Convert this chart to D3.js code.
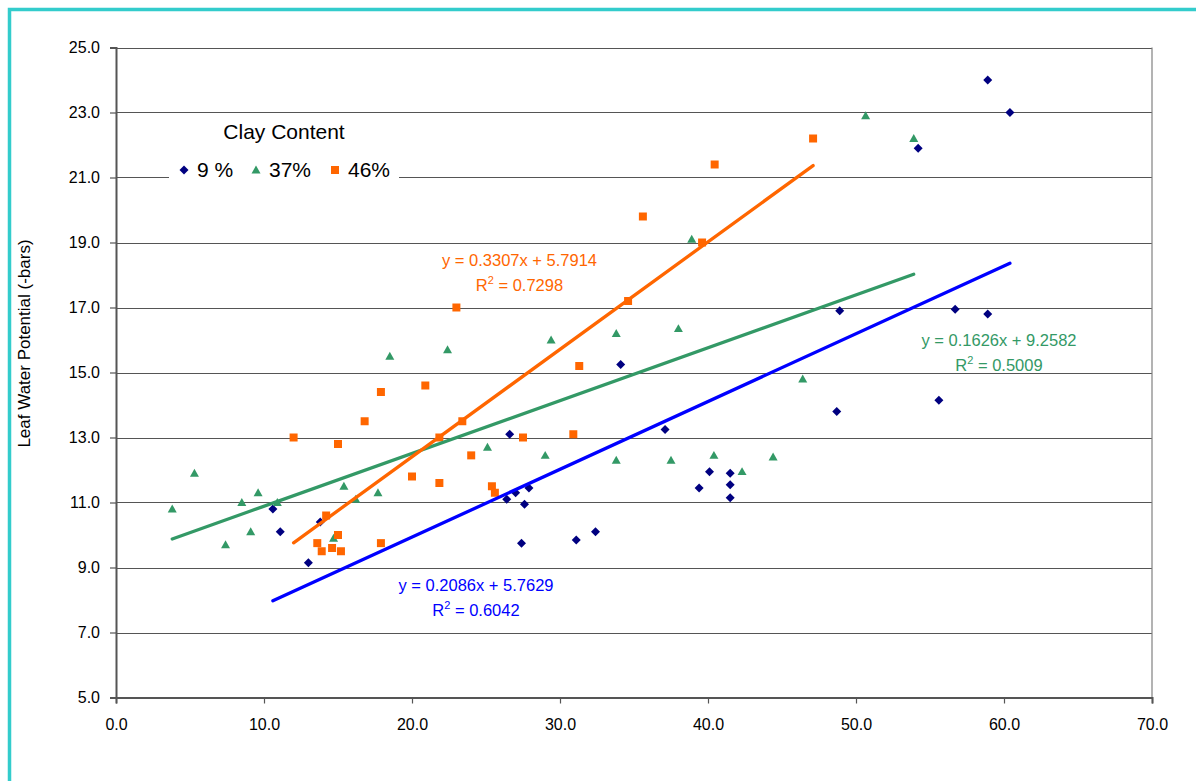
<!DOCTYPE html>
<html>
<head>
<meta charset="utf-8">
<script src="https://cdn.jsdelivr.net/npm/d3@7"></script>
<style>
  body { margin: 0; background: #fff; }
  svg { display: block; font-family: "Liberation Sans", Arial, sans-serif; }
</style>
</head>
<body>
<script>
"use strict";

///////////////////
// data
///////////////////

// 9 % clay : [x, y]
var clay9 = [
    [10.6, 10.8], [11.1, 10.1], [13.0, 9.15], [13.8, 10.4], [26.6, 13.1],
    [26.4, 11.1], [27.0, 11.3], [27.9, 11.45], [27.6, 10.95], [27.4, 9.75],
    [31.1, 9.85], [32.4, 10.1], [34.1, 15.25], [37.1, 13.25], [39.4, 11.45],
    [40.1, 11.95], [41.5, 11.9], [41.5, 11.55], [41.5, 11.15], [48.9, 16.9],
    [48.7, 13.8], [55.6, 14.15], [56.7, 16.95], [58.9, 16.8], [54.2, 21.9],
    [58.9, 24.0], [60.4, 23.0]
];
// 37 % clay
var clay37 = [
    [3.8, 10.8], [5.3, 11.9], [7.4, 9.7], [8.5, 11.0], [9.1, 10.1],
    [9.6, 11.3], [10.9, 11.0], [14.7, 9.9], [15.4, 11.5], [16.2, 11.1],
    [17.7, 11.3], [18.5, 15.5], [22.4, 15.7], [25.1, 12.7], [29.4, 16.0],
    [29.0, 12.45], [33.8, 16.2], [33.8, 12.3], [38.0, 16.35], [37.5, 12.3],
    [38.9, 19.1], [40.4, 12.45], [42.3, 11.95], [44.4, 12.4], [46.4, 14.8],
    [50.65, 22.9], [53.9, 22.2]
];
// 46 % clay
var clay46 = [
    [12.0, 13.0], [13.6, 9.75], [13.9, 9.5], [14.2, 10.6], [14.6, 9.6],
    [15.0, 12.8], [15.0, 10.0], [15.2, 9.5], [16.8, 13.5], [17.9, 14.4],
    [17.9, 9.75], [20.0, 11.8], [20.9, 14.6], [21.85, 13.0], [21.85, 11.6],
    [23.0, 17.0], [23.4, 13.5], [24.0, 12.45], [25.4, 11.5], [25.6, 11.3],
    [27.5, 13.0], [30.9, 13.1], [31.3, 15.2], [34.6, 17.2], [35.6, 19.8],
    [39.6, 19.0], [40.45, 21.4], [47.1, 22.2]
];

var seriesNames = ["9 %", "37%", "46%"];
var slopes = [0.2086, 0.1626, 0.3307];
var intercepts = [5.7629, 9.2582, 5.7914];
var rSquared = ["0.6042", "0.5009", "0.7298"];

var xTicks = [0, 10, 20, 30, 40, 50, 60, 70];
var yTicks = [5, 7, 9, 11, 13, 15, 17, 19, 21, 23, 25];

///////////////////
// setup
///////////////////

var W = 1196, H = 781;
var colors = ["#000080", "#339966", "#FF6600"];
var lineColors = ["#0000FF", "#339966", "#FF6600"];
var series = [clay9, clay37, clay46];

var x = d3.scaleLinear().domain([0, 70]).range([116, 1152]);
var y = d3.scaleLinear().domain([5, 25]).range([697.5, 47.5]);

var svg = d3.select("body").append("svg")
    .attr("width", W).attr("height", H);

// teal frame (cut off at right/bottom)
svg.append("rect")
    .attr("x", 9.5).attr("y", 9.5)
    .attr("width", W + 20).attr("height", H + 20)
    .attr("fill", "#fff")
    .attr("stroke", "#33CCCC").attr("stroke-width", 3.5);

// gridlines
svg.append("g").selectAll("line")
    .data(yTicks.slice(1))
    .enter().append("line")
    .attr("x1", x(0)).attr("x2", x(70))
    .attr("y1", function(d) { return Math.round(y(d)) + 0.5; })
    .attr("y2", function(d) { return Math.round(y(d)) + 0.5; })
    .attr("stroke", "#555").attr("stroke-width", 1);

// right border
svg.append("line")
    .attr("x1", x(70)).attr("x2", x(70))
    .attr("y1", y(25)).attr("y2", y(5))
    .attr("stroke", "#808080").attr("stroke-width", 1.2);

// axes
var xAxis = svg.append("g")
    .attr("transform", "translate(0," + y(5) + ")")
    .call(d3.axisBottom(x).tickValues(xTicks).tickSize(6).tickPadding(15)
        .tickFormat(d3.format(".1f")));
var yAxis = svg.append("g")
    .attr("transform", "translate(" + x(0) + ",0)")
    .call(d3.axisLeft(y).tickValues(yTicks).tickSize(6).tickPadding(10)
        .tickFormat(d3.format(".1f")));

[xAxis, yAxis].forEach(function(a) {
    a.select(".domain").attr("stroke", "#555").attr("stroke-width", 2);
    a.selectAll(".tick line").attr("stroke", "#555").attr("stroke-width", 1.2);
    a.selectAll(".tick text")
        .attr("font-size", 16)
        .attr("font-family", "'Liberation Sans', Arial, sans-serif")
        .attr("fill", "#000");
});

// y axis title
svg.append("text")
    .attr("transform", "translate(30,343.5) rotate(-90)")
    .attr("text-anchor", "middle")
    .attr("font-size", 17)
    .text("Leaf Water Potential (-bars)");

///////////////////
// markers
///////////////////

function markerPath(i) {
    if (i === 0) return "M0,-4.5L4.5,0L0,4.5L-4.5,0Z";      // diamond
    if (i === 1) return "M0,-4.5L4.5,3.4L-4.5,3.4Z";        // triangle
    return "M-4,-4H4V4H-4Z";                                // square
}

series.forEach(function(data, i) {
    svg.append("g").selectAll("path")
        .data(data)
        .enter().append("path")
        .attr("d", markerPath(i))
        .attr("transform", function(d) {
            return "translate(" + x(d[0]) + "," + y(d[1]) + ")";
        })
        .attr("fill", colors[i]);
});

// linear trendlines across each series' x range
series.forEach(function(data, i) {
    var ext = d3.extent(data, function(d) { return d[0]; });
    var f = function(v) { return slopes[i] * v + intercepts[i]; };
    svg.append("line")
        .attr("x1", x(ext[0])).attr("y1", y(f(ext[0])))
        .attr("x2", x(ext[1])).attr("y2", y(f(ext[1])))
        .attr("stroke", lineColors[i])
        .attr("stroke-width", 3.3)
        .attr("stroke-linecap", "round");
});

// trendline equations
var labelPos = [[476, 591], [999, 346], [519.5, 266]];
var labelColors = ["#0000FF", "#339966", "#FF6600"];
labelPos.forEach(function(p, i) {
    var g = svg.append("g")
        .attr("fill", labelColors[i])
        .attr("font-size", 16.5)
        .attr("text-anchor", "middle");
    g.append("text")
        .attr("x", p[0]).attr("y", p[1])
        .text("y = " + slopes[i].toFixed(4) + "x + " + intercepts[i].toFixed(4));
    var t = g.append("text").attr("x", p[0]).attr("y", p[1] + 25);
    t.append("tspan").text("R");
    t.append("tspan").attr("font-size", 11).attr("dy", -7).text("2");
    t.append("tspan").attr("dy", 7).text(" = " + rSquared[i]);
});

///////////////////
// legend
///////////////////

var legend = svg.append("g");
legend.append("rect")
    .attr("x", 169).attr("y", 118)
    .attr("width", 230).attr("height", 80)
    .attr("fill", "#fff");
legend.append("text")
    .attr("x", 284).attr("y", 139)
    .attr("text-anchor", "middle")
    .attr("font-size", 21)
    .text("Clay Content");

var legendX = [184, 256, 335];
seriesNames.forEach(function(name, i) {
    legend.append("path")
        .attr("d", markerPath(i))
        .attr("transform", "translate(" + legendX[i] + ",170)")
        .attr("fill", colors[i]);
    legend.append("text")
        .attr("x", legendX[i] + 13).attr("y", 177)
        .attr("font-size", 21)
        .text(name);
});
</script>
</body>
</html>
